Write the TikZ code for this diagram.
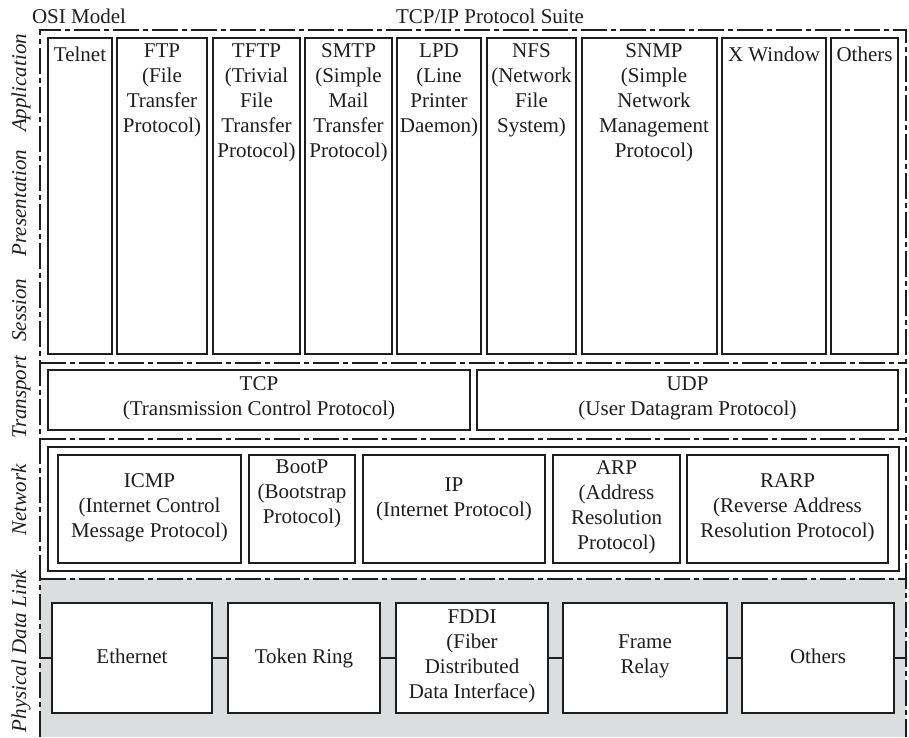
\documentclass[tikz,border=0pt]{standalone}
\usepackage{fontspec}
\setmainfont{Liberation Serif}
\definecolor{pgray}{RGB}{220,221,223}
\definecolor{ink}{RGB}{30,30,30}
\begin{document}
\begin{tikzpicture}[x=1pt,y=-1pt,
  every node/.style={font=\fontsize{21}{25}\selectfont, text=ink},
  frame/.style={draw=ink, line width=1.1pt, dash pattern=on 26pt off 4pt on 5pt off 4pt},
  box/.style={draw=ink, line width=1.1pt, fill=white, inner sep=0pt, outer sep=0pt, anchor=north west},
  conn/.style={draw=ink, line width=1.1pt},
  lbl/.style={align=center, inner sep=0pt, execute at begin node=\strut, execute at end node=\strut},
  layer/.style={rotate=90, anchor=base, inner sep=0pt, font=\fontsize{21}{25}\selectfont\itshape},
]
\useasboundingbox (0,0) rectangle (909,737);

% lower two layers are shaded
\fill[pgray] (40,579) rectangle (906,737);

% headings
\node[anchor=base] (osi) at (79,23) {OSI Model};
\node[anchor=base] (suite) at (490,23) {TCP/IP Protocol Suite};

% OSI layer names
\node[layer] (lApp) at (26,83) {Application};
\node[layer] (lPre) at (26,203) {Presentation};
\node[layer] (lSes) at (26,310) {Session};
\node[layer] (lTra) at (26,397) {Transport};
\node[layer] (lNet) at (26,500) {Network};
\node[layer] (lPhy) at (26,651) {Physical Data Link};

% application protocols
\node[box, minimum width=64pt, minimum height=316pt] (telnet) at (48,38) {};
\node[box, minimum width=90pt, minimum height=316pt] (ftp) at (117,38) {};
\node[box, minimum width=87pt, minimum height=316pt] (tftp) at (213,38) {};
\node[box, minimum width=87pt, minimum height=316pt] (smtp) at (305,38) {};
\node[box, minimum width=84pt, minimum height=316pt] (lpd) at (397,38) {};
\node[box, minimum width=89pt, minimum height=316pt] (nfs) at (487,38) {};
\node[box, minimum width=135pt, minimum height=316pt] (snmp) at (582,38) {};
\node[box, minimum width=104pt, minimum height=316pt] (xwin) at (722,38) {};
\node[box, minimum width=67pt, minimum height=316pt] (aoth) at (831,38) {};

\node[lbl, anchor=north] (telnetT) at (80,43.5) {Telnet};
\node[lbl, anchor=north] (ftpT) at (162,43.5) {FTP\\(File\\Transfer\\Protocol)};
\node[lbl, anchor=north] (tftpT) at (256.5,43.5) {TFTP\\(Trivial\\File\\Transfer\\Protocol)};
\node[lbl, anchor=north] (smtpT) at (348.5,43.5) {SMTP\\(Simple\\Mail\\Transfer\\Protocol)};
\node[lbl, anchor=north] (lpdT) at (439,43.5) {LPD\\(Line\\Printer\\Daemon)};
\node[lbl, anchor=north] (nfsT) at (531.5,43.5) {NFS\\(Network\\File\\System)};
\node[lbl, anchor=north] (snmpT) at (654,43.5) {SNMP\\(Simple\\Network\\Management\\Protocol)};
\node[lbl, anchor=north] (xwinT) at (774,43.5) {X Window};
\node[lbl, anchor=north] (aothT) at (864.5,43.5) {Others};

% transport protocols
\node[box, minimum width=422pt, minimum height=60pt] (tcp) at (48,370) {};
\node[box, minimum width=421pt, minimum height=60pt] (udp) at (477,370) {};
\node[lbl] (tcpT) at (tcp.center) {TCP\\(Transmission Control Protocol)};
\node[lbl] (udpT) at (udp.center) {UDP\\(User Datagram Protocol)};

% network protocols
\node[box, minimum width=851pt, minimum height=124pt] (netgrp) at (48,447) {};
\node[box, minimum width=183pt, minimum height=108pt] (icmp) at (58,455) {};
\node[box, minimum width=106pt, minimum height=108pt] (bootp) at (249,455) {};
\node[box, minimum width=182pt, minimum height=108pt] (ip) at (363,455) {};
\node[box, minimum width=127pt, minimum height=108pt] (arp) at (553,455) {};
\node[box, minimum width=201pt, minimum height=108pt] (rarp) at (687,455) {};

\node[lbl] (icmpT) at (icmp.center) {ICMP\\(Internet Control\\Message Protocol)};
\node[lbl, anchor=north] (bootpT) at (302,459.5) {BootP\\(Bootstrap\\Protocol)};
\node[lbl, anchor=north] (ipT) at (454,477.5) {IP\\(Internet Protocol)};
\node[lbl] (arpT) at (arp.center) {ARP\\(Address\\Resolution\\Protocol)};
\node[lbl] (rarpT) at (rarp.center) {RARP\\(Reverse Address\\Resolution Protocol)};

% physical / data link
\coordinate (fl) at (40,658);
\coordinate (fr) at (906,658);
\node[box, minimum width=160pt, minimum height=110pt] (eth) at (52,603) {};
\node[box, minimum width=152pt, minimum height=110pt] (tring) at (228,603) {};
\node[box, minimum width=152pt, minimum height=110pt] (fddi) at (396,603) {};
\node[box, minimum width=164pt, minimum height=110pt] (frelay) at (563,603) {};
\node[box, minimum width=152pt, minimum height=110pt] (poth) at (742,603) {};

\draw[conn] (fl) -- (eth.west);
\draw[conn] (eth.east) -- (tring.west);
\draw[conn] (tring.east) -- (fddi.west);
\draw[conn] (fddi.east) -- (frelay.west);
\draw[conn] (frelay.east) -- (poth.west);
\draw[conn] (poth.east) -- (fr);

\node[lbl] (ethT) at (eth.center) {Ethernet};
\node[lbl] (tringT) at (tring.center) {Token Ring};
\node[lbl] (fddiT) at (fddi.center) {FDDI\\(Fiber\\Distributed\\Data Interface)};
\node[lbl] (frelayT) at (frelay.center) {Frame\\Relay};
\node[lbl] (pothT) at (poth.center) {Others};

% layer boundaries
\draw[frame] (40,737) -- (40,30) -- (906,30) -- (906,737);
\draw[frame] (40,363) -- (906,363);
\draw[frame] (40,439) -- (906,439);
\draw[frame] (40,579) -- (906,579);
\end{tikzpicture}
\end{document}
